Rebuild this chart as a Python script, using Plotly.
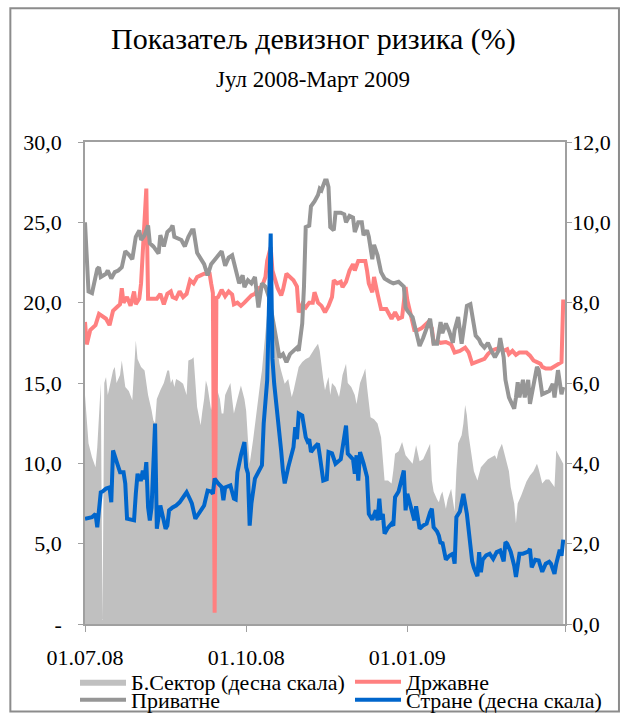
import pandas as pd
import plotly.graph_objects as go

START = pd.Timestamp("2008-07-01")

# ---- data (day offsets from 01.07.2008, values in %) ----
sector_days = [0,2,4,6,7,9,10,11,12,13,14,16,17,18,20,21,23,25,27,28,29,30,32,34,36,38,39,40,41,43,45,47,48,49,50,51,52,54,56,58,59,61,62,64,66,67,68,69,70,72,73,75,77,78,79,80,82,83,84,85,87,89,91,92,93,94,96,97,99,100,101,103,104,105,106,107,108,110,111,112,114,116,118,119,120,122,124,126,128,130,131,133,134,136,137,138,139,140,141,143,145,146,147,149,150,152,154,155,157,159,160,161,163,165,167,169,171,173,175,176,177,179,181,183,185,187,189,191,193,195,197,198,199,201,202,203,204,206,207,209,210,211,212,213,215,216,217,218,219,221,222,224,226,228,230,232,234,235,236,238,240,242,243,245,246,247,249,250,252,254,256,258,259,261,263,265,267,268,269,271,273]
sector_vals = [5.7,4.5,4.15,3.9,4.4,5.98,0.1,6.0,6.15,5.7,5.9,6.31,6.4,6.0,6.2,6.56,5.9,5.8,5.57,6.4,7.06,6.6,6.4,6.31,5.7,5.32,5.07,5.0,5.6,5.82,6.0,6.31,6.31,6.0,6.1,5.9,6.1,6.05,5.98,5.7,6.56,6.6,6.64,5.4,4.95,5.3,5.6,6.06,5.9,5.32,5.5,5.9,5.6,5.24,5.24,5.7,5.9,6.0,5.6,5.24,5.6,5.94,5.6,5.3,4.6,3.99,4.6,4.99,5.7,6.0,6.31,7.3,7.73,7.98,7.9,7.5,7.31,6.8,6.48,6.3,5.98,6.1,5.65,5.8,6.0,6.4,6.52,6.6,6.64,6.8,6.85,6.98,6.8,6.1,5.82,6.0,6.15,5.7,6.0,5.9,5.65,5.9,6.2,6.48,6.0,5.9,5.7,5.48,6.0,6.23,6.36,5.9,5.15,5.1,4.99,4.65,3.57,3.57,3.5,3.82,4.24,4.3,4.53,4.2,4.1,3.99,4.45,4.05,4.1,4.3,4.49,3.57,3.3,3.1,3.03,3.2,3.3,2.87,3.1,3.37,3.1,2.8,3.82,4.5,4.7,4.99,5.45,5.2,4.7,4.07,3.8,3.57,3.9,4.0,4.1,4.15,4.2,4.1,4.3,4.49,4.15,3.8,3.41,3.0,2.5,3.0,3.2,3.32,3.55,3.7,3.8,3.99,3.85,3.5,3.6,3.6,3.45,3.41,4.32,4.15,3.99]

state_days = [0,1,3,6,8,11,12,14,16,18,20,21,22,24,26,28,29,31,32,35,36,38,41,43,45,47,49,50,52,54,56,58,60,62,64,66,68,70,71,72,73,74,75,76,78,80,82,84,85,87,89,91,93,95,97,99,101,103,104,106,107,108,110,112,113,115,117,119,121,122,123,124,126,128,130,131,133,135,137,139,141,142,144,146,147,149,151,153,154,156,158,160,161,162,164,165,167,169,172,175,177,179,181,183,184,186,188,190,192,194,196,198,199,201,203,206,209,211,214,217,219,221,223,226,228,230,232,234,237,239,241,242,244,246,248,250,252,254,256,258,260,261,263,266,269,271,272,273]
state_vals = [18.8,17.4,18.3,18.6,19.3,19.1,19.0,18.6,19.5,19.7,19.9,20.9,20.0,20.35,19.8,20.7,19.9,20.25,21.2,27.1,20.25,20.25,20.25,20.55,19.9,20.55,20.7,20.35,20.25,20.7,20.35,20.55,21.4,21.2,21.6,21.7,21.8,21.8,21.9,21.2,20.6,0.7,20.3,20.35,20.8,20.4,20.7,20.5,19.9,20.0,19.8,20.0,20.2,20.45,20.55,20.9,21.0,21.6,22.6,23.45,22.0,21.6,20.9,20.45,20.8,21.8,21.6,21.4,21.0,19.4,19.6,19.9,19.7,20.0,20.0,20.65,20.0,19.8,19.4,19.8,20.35,21.4,21.2,21.3,20.97,21.3,22.0,22.4,22.0,22.6,22.6,22.6,22.0,21.2,20.65,21.6,20.55,19.6,19.6,19.0,19.4,19.0,19.1,20.97,20.15,19.3,18.3,18.3,18.4,18.6,18.8,18.4,17.5,17.6,17.5,17.55,17.4,16.9,17.0,17.2,16.9,16.2,16.3,16.4,16.5,16.8,17.0,17.1,17.2,17.0,17.1,16.8,17.0,16.75,16.9,16.9,16.9,16.7,16.4,16.3,16.2,16.0,15.9,15.9,16.1,16.2,16.3,20.2]

private_days = [0,2,4,7,8,9,12,13,15,17,19,21,23,25,27,29,31,32,34,36,37,39,42,43,45,47,49,50,51,53,55,57,59,61,62,64,66,68,70,72,75,78,80,82,84,86,88,90,91,93,95,97,99,101,103,105,107,108,110,111,113,115,117,119,121,122,123,124,125,126,128,129,131,133,134,135,137,138,139,140,142,143,146,148,149,151,153,154,156,158,159,161,162,164,165,167,169,171,174,176,179,182,183,184,187,189,191,193,195,197,199,201,203,204,206,208,210,211,213,215,217,218,220,222,223,225,226,228,230,232,234,236,237,239,240,242,245,246,247,248,250,251,253,254,256,258,259,261,263,265,267,268,270,271,272,273]
private_vals = [25.0,20.7,20.6,22.1,22.2,21.6,21.8,22.0,21.5,21.9,22.0,22.2,23.2,23.0,22.7,24.1,24.5,23.9,24.2,24.8,23.7,23.5,23.05,24.2,23.5,24.4,24.6,24.8,24.1,24.0,23.9,23.5,24.1,24.5,24.5,23.1,22.7,22.4,21.7,22.4,22.8,23.2,22.3,22.8,22.95,22.0,21.2,21.7,20.97,21.4,21.2,21.6,19.7,21.2,21.0,20.35,19.0,18.5,16.9,16.6,16.8,16.3,16.8,17.0,17.2,17.0,18.0,18.7,21.0,24.7,24.8,26.0,26.3,26.7,27.1,27.0,27.6,27.6,27.2,24.7,24.5,25.6,25.6,25.5,25.0,25.4,25.3,24.4,25.0,25.0,24.2,24.5,24.1,22.7,23.6,22.95,21.9,21.5,21.3,21.2,21.3,21.0,19.7,19.5,19.1,18.1,17.3,17.8,18.5,19.0,17.45,17.45,18.8,18.1,18.7,18.2,17.5,18.3,19.1,17.45,19.0,19.8,19.9,18.6,17.95,17.7,17.45,17.2,17.5,17.0,16.6,17.0,17.8,16.6,15.2,14.1,13.4,14.1,15.05,14.1,15.2,14.1,15.2,13.7,15.0,16.0,15.8,14.3,14.4,14.5,14.95,14.1,15.8,15.0,14.3,14.75]

foreign_days = [0,2,4,6,7,9,10,12,14,15,16,18,20,22,23,24,26,28,29,30,31,32,33,34,35,36,37,38,40,41,43,45,46,47,48,50,52,54,56,58,60,61,63,65,66,68,70,72,73,74,76,78,79,80,83,85,86,87,89,91,92,93,94,95,97,99,101,102,104,106,107,108,110,112,113,114,116,118,119,120,121,122,124,126,127,128,129,131,133,134,136,138,139,141,143,146,147,149,150,152,153,154,155,156,157,159,161,162,164,166,167,168,169,170,171,173,175,176,177,179,182,183,184,186,188,189,191,193,195,197,198,199,201,202,203,204,206,208,210,211,212,214,215,216,218,219,221,222,224,225,226,227,229,231,233,235,237,239,240,241,243,245,246,248,250,253,254,255,257,259,261,263,265,266,268,269,271,272,273]
foreign_vals = [2.62,2.64,2.66,2.74,2.41,3.28,3.3,3.37,3.4,3.03,4.32,4.05,3.78,3.78,3.49,2.62,2.6,2.58,3.24,3.74,3.6,3.6,3.82,3.6,4.03,2.91,2.58,2.9,4.99,2.37,2.95,2.58,2.37,2.45,2.83,2.9,2.95,3.03,3.16,3.28,3.1,3.0,2.62,2.75,2.79,2.95,3.32,3.3,3.24,3.62,3.5,3.41,3.08,3.4,3.45,3.12,3.1,3.78,4.2,4.53,3.9,3.75,2.45,3.0,3.62,3.78,3.95,4.99,6.07,9.72,6.6,5.98,5.24,4.3,3.8,3.5,3.9,4.24,4.4,4.9,4.6,5.24,5.19,4.65,4.55,4.6,4.28,4.4,4.49,4.2,3.57,3.6,4.28,4.25,3.99,4.1,4.4,4.94,4.24,4.15,4.1,3.74,4.2,3.57,4.28,4.0,3.66,2.74,2.6,2.83,2.58,3.12,2.6,2.74,2.25,2.4,2.5,2.45,3.16,3.3,3.82,2.83,3.24,2.91,2.58,2.93,2.37,2.45,2.5,2.78,2.87,2.41,2.3,2.2,2.0,2.04,1.6,1.7,1.75,1.5,2.66,2.8,3.08,3.24,2.74,2.33,1.56,1.4,1.19,1.79,1.29,1.6,1.71,1.75,1.62,1.79,1.83,1.56,2.04,2.0,1.8,1.45,1.17,1.75,1.75,1.8,1.87,1.41,1.6,1.58,1.3,1.5,1.55,1.5,1.25,1.5,1.85,1.7,2.1]

left_ticks = [0, 5, 10, 15, 20, 25, 30]
left_labels = ["-", "5,0", "10,0", "15,0", "20,0", "25,0", "30,0"]
right_ticks = [0, 2, 4, 6, 8, 10, 12]
right_labels = ["0,0", "2,0", "4,0", "6,0", "8,0", "10,0", "12,0"]
x_ticks = ["2008-07-01", "2008-10-01", "2009-01-01", "2009-04-01"]
x_labels = ["01.07.08", "01.10.08", "01.01.09", ""]

names = ["Б.Сектор (десна скала)", "Државне", "Приватне", "Стране (десна скала)"]


def to_dates(days):
    return [START + pd.Timedelta(days=d) for d in days]


FONT = "Liberation Serif"
AXIS = "#a0a0a0"
W, H = 623, 714

fig = go.Figure()
fig.add_trace(go.Scatter(x=to_dates(sector_days), y=sector_vals, name=names[0],
                         mode="lines", fill="tozeroy", fillcolor="#c0c0c0",
                         line=dict(width=0, color="#c0c0c0"), yaxis="y",
                         legend="legend", showlegend=True))
fig.add_trace(go.Scatter(x=to_dates(state_days), y=state_vals, name=names[1],
                         mode="lines", line=dict(width=4, color="#ff8080"),
                         yaxis="y2", legend="legend2", showlegend=True))
fig.add_trace(go.Scatter(x=to_dates(private_days), y=private_vals, name=names[2],
                         mode="lines", line=dict(width=4, color="#969696"),
                         yaxis="y2", legend="legend3", showlegend=True))
fig.add_trace(go.Scatter(x=to_dates(foreign_days), y=foreign_vals, name=names[3],
                         mode="lines", line=dict(width=4, color="#0066cc"),
                         yaxis="y3", legend="legend4", showlegend=True))

tickfont = dict(family=FONT, size=22, color="#000")


def legend_at(px_x, px_y):
    return dict(xref="container", yref="container", x=px_x / W, xanchor="left",
                y=1 - px_y / H, yanchor="middle", font=dict(family=FONT, size=22, color="#000"),
                bgcolor="rgba(0,0,0,0)", itemwidth=46, borderwidth=0, visible=True)


fig.update_layout(
    width=W, height=H,
    showlegend=True,
    margin=dict(l=85, r=58, t=142, b=90, autoexpand=False),
    paper_bgcolor="white", plot_bgcolor="white",
    font=dict(family=FONT, color="#000"),
    title=dict(text="Показатељ девизног ризика (%)", x=0.503, xanchor="center",
               y=1 - 38 / H, yanchor="middle", font=dict(family=FONT, size=30)),
    xaxis=dict(type="date", range=["2008-07-01", "2009-04-01"], tickvals=x_ticks,
               ticktext=x_labels, ticks="outside", ticklen=6, tickcolor=AXIS,
               showline=True, linecolor=AXIS, linewidth=1.5, mirror=True,
               showgrid=False, zeroline=False, tickfont=tickfont, ticklabelstandoff=7),
    yaxis=dict(side="right", range=[0, 12], tickvals=right_ticks, ticktext=right_labels,
               ticks="outside", ticklen=5, tickcolor=AXIS, showline=True, linecolor=AXIS,
               linewidth=1.5, showgrid=False, zeroline=False, tickfont=tickfont,
               ticklabelstandoff=-4),
    yaxis2=dict(side="left", overlaying="y", range=[0, 30], tickvals=left_ticks,
                ticktext=left_labels, ticks="outside", ticklen=5, tickcolor=AXIS,
                showline=True, linecolor=AXIS, linewidth=1.5, showgrid=False,
                zeroline=False, tickfont=tickfont, ticklabelstandoff=12),
    yaxis3=dict(overlaying="y", range=[0, 12], visible=False),
    legend=legend_at(75, 682),
    legend2=legend_at(350, 682),
    legend3=legend_at(75, 700),
    legend4=legend_at(350, 700),
    annotations=[dict(text="Јул 2008-Март 2009", xref="paper", yref="paper",
                      x=0.475, y=(623.5 - 79) / 481.8, xanchor="center", yanchor="middle",
                      showarrow=False, font=dict(family=FONT, size=23))],
    shapes=[dict(type="rect", xref="paper", yref="paper",
                 x0=(10 - 84.7) / 480.3, x1=(619 - 84.7) / 480.3,
                 y0=(623.5 - 711) / 481.8, y1=(623.5 - 8) / 481.8,
                 line=dict(color="#8c8c8c", width=2), fillcolor="rgba(0,0,0,0)")],
)

fig.write_html("out.html", config={"displayModeBar": False},
               post_script="document.body.style.margin='0px';")
